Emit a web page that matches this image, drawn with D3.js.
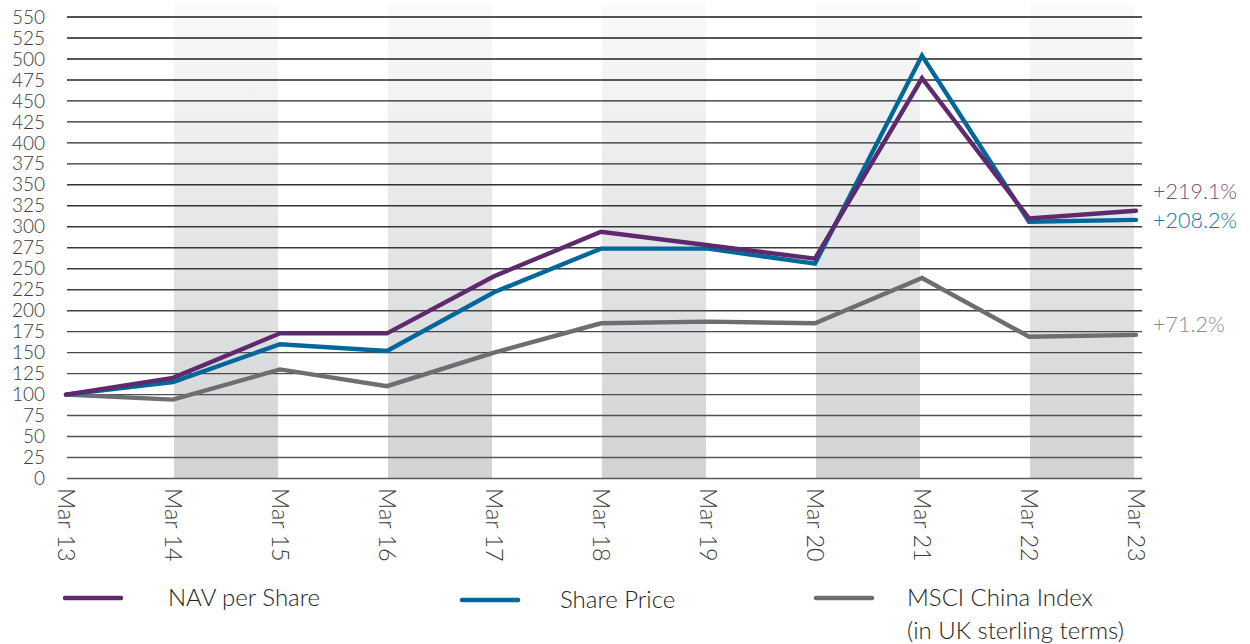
<!DOCTYPE html>
<html><head><meta charset="utf-8">
<script src="https://cdn.jsdelivr.net/npm/d3@7"></script>
<style>body{margin:0;background:#fff;} svg{display:block;font-family:Lato,"Open Sans",sans-serif;font-weight:300;}</style>
</head><body><svg id="c" width="1250" height="644"></svg>
<script>
const categories = ["Mar 13","Mar 14","Mar 15","Mar 16","Mar 17","Mar 18","Mar 19","Mar 20","Mar 21","Mar 22","Mar 23"];
const navPerShare = [100,120,173,173,241,294,278,262,477,310,319.1];
const sharePrice  = [100,115,160,152,222,274,274,256,504,306,308.2];
const msciChina   = [100,94,130,110,150,185,187,185,239,169,171.2];
const yTicks = d3.range(0,551,25);
const endLabels = ["+219.1%","+208.2%","+71.2%"];
const seriesNames = ["NAV per Share","Share Price","MSCI China Index"];
const colors = ["#5f2a6d","#00679b","#6d6e71"];
const labelColors = ["#7a4d86","#1a76a8","#8a8b8e"];

const svg = d3.select("#c");
const x = d3.scalePoint().domain(categories).range([66,1136]);
const y = d3.scaleLinear().domain([0,550]).range([478.5,17]);
const step = x.step();

const defs = svg.append("defs");
const g = defs.append("linearGradient").attr("id","band").attr("x1",0).attr("x2",0).attr("y1",0).attr("y2",1);
g.append("stop").attr("offset","0%").attr("stop-color","#fafafa");
g.append("stop").attr("offset","45%").attr("stop-color","#e6e7e9");
g.append("stop").attr("offset","100%").attr("stop-color","#d2d3d5");

// shaded bands
svg.append("g").selectAll("rect").data(categories.filter((d,i)=>i%2===1))
 .join("rect")
 .attr("x",d=>x(d)+1).attr("width",step-3)
 .attr("y",5).attr("height",y(0)-5)
 .attr("fill","url(#band)");

// gridlines
svg.append("g").selectAll("line").data(yTicks).join("line")
 .attr("x1",67).attr("x2",1142)
 .attr("y1",d=>y(d)).attr("y2",d=>y(d))
 .attr("stroke",d=>d3.interpolateRgb("#5a5a5a","#1a1a1a")(d/550)).attr("stroke-width",1.4);

// y axis labels
svg.append("g").selectAll("text").data(yTicks).join("text")
 .attr("x",45).attr("y",d=>y(d)).attr("dy","0.35em")
 .attr("text-anchor","end").attr("font-size",19).attr("fill","#3a3a3a")
 .text(d=>d);

// x labels
svg.append("g").selectAll("text").data(categories).join("text")
 .attr("transform",d=>`translate(${x(d)},488) rotate(90)`)
 .attr("dy","0.35em").attr("font-size",23.5).attr("fill","#3a3a3a")
 .text(d=>d);

// lines
const line = d3.line().x((d,i)=>x(categories[i])).y(d=>y(d));
const all = [msciChina, sharePrice, navPerShare];
const allCol = [colors[2],colors[1],colors[0]];
all.forEach((s,k)=>{
  svg.append("path").datum(s).attr("d",line).attr("fill","none")
   .attr("stroke",allCol[k]).attr("stroke-width",4.4).attr("stroke-linejoin","miter").attr("stroke-linecap","round");
});

// end labels
const endVals = [navPerShare[10], sharePrice[10], msciChina[10]];
const endY = [y(endVals[0])-19, y(endVals[1])+1, y(endVals[2])-10];
endLabels.forEach((t,i)=>{
  svg.append("text").attr("x",1153).attr("y",endY[i]).attr("dy","0.35em")
   .attr("font-size",21.5).attr("fill",labelColors[i]).text(t);
});

// legend
const leg = [{x:65,tx:168,y:598},{x:462,tx:560,y:600},{x:816,tx:907,y:598}];
leg.forEach((l,i)=>{
  svg.append("line").attr("x1",l.x).attr("x2",l.x+56).attr("y1",l.y).attr("y2",l.y)
   .attr("stroke",colors[i]).attr("stroke-width",4.5).attr("stroke-linecap","round");
  svg.append("text").attr("x",l.tx).attr("y",l.y).attr("dy","0.35em").attr("font-size",24).attr("fill","#222").text(seriesNames[i]);
});
svg.append("text").attr("x",907).attr("y",631).attr("dy","0.35em").attr("font-size",24).attr("fill","#222").text("(in UK sterling terms)");
</script></body></html>
